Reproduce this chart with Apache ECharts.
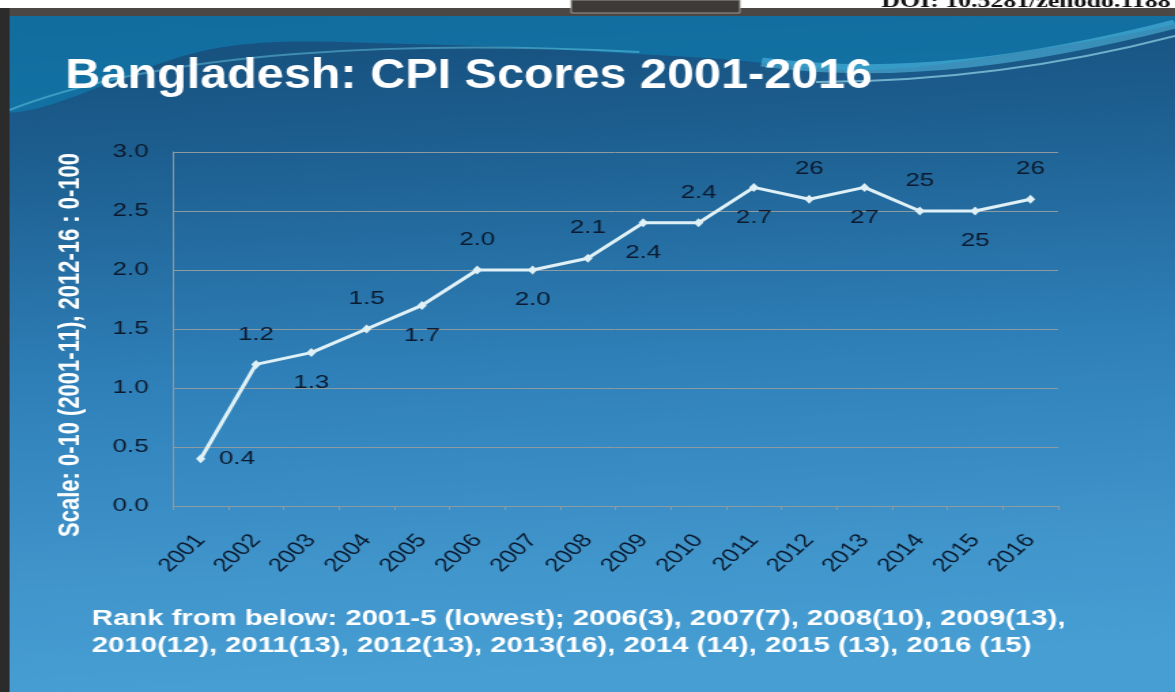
<!DOCTYPE html>
<html>
<head>
<meta charset="utf-8">
<script src="https://cdn.jsdelivr.net/npm/echarts@6/dist/echarts.min.js"></script>
<style>
html, body { margin: 0; padding: 0; background: #fff; overflow: hidden; }
/* the source slide is stretched sideways, so the chart is drawn narrower and widened */
#main { width: 864px; height: 692px; transform: scaleX(1.36); transform-origin: 0 0; }
</style>
</head>
<body>
<div id="main"></div>
<script>
// CPI scores (0-10 scale up to 2011, 0-100 divided by 10 from 2012)
const years = ['2001', '2002', '2003', '2004', '2005', '2006', '2007', '2008',
  '2009', '2010', '2011', '2012', '2013', '2014', '2015', '2016'];
const scores = [0.4, 1.2, 1.3, 1.5, 1.7, 2.0, 2.0, 2.1, 2.4, 2.4, 2.7, 2.6, 2.7, 2.5, 2.5, 2.6];
const scoreLabels = ['0.4', '1.2', '1.3', '1.5', '1.7', '2.0', '2.0', '2.1',
  '2.4', '2.4', '2.7', '26', '27', '25', '25', '26'];
const labelSide = ['right', 'top', 'bottom', 'top', 'bottom', 'top', 'bottom', 'top',
  'bottom', 'top', 'bottom', 'top', 'bottom', 'top', 'bottom', 'top'];
const yTicks = [0, 0.5, 1.0, 1.5, 2.0, 2.5, 3.0];

const titleText = 'Bangladesh: CPI Scores 2001-2016';
const yName = 'Scale: 0-10 (2001-11), 2012-16 : 0-100';
const noteLines = [
  'Rank from below: 2001-5 (lowest); 2006(3), 2007(7), 2008(10), 2009(13),',
  '2010(12), 2011(13), 2012(13), 2013(16), 2014 (14), 2015 (13), 2016 (15)'
];

const chart = echarts.init(document.getElementById('main'));

const points = scores.map((v, i) => ({
  value: v,
  label: {
    position: labelSide[i],
    distance: labelSide[i] === 'right' ? 10 : 16,
    formatter: scoreLabels[i]
  }
}));

const SANS = '"Liberation Sans", Arial, sans-serif';
const W = 864;

const option = {
  backgroundColor: '#ffffff',
  graphic: [
    // slide background
    {
      type: 'rect', z: -10, silent: true,
      shape: { x: 0, y: 16, width: W, height: 676 },
      style: {
        fill: new echarts.graphic.LinearGradient(0, 0, 0.05, 1, [
          { offset: 0, color: '#154d7a' },
          { offset: 0.22, color: '#1d5f90' },
          { offset: 0.55, color: '#2f80b9' },
          { offset: 0.85, color: '#4196cc' },
          { offset: 1, color: '#469ed3' }
        ])
      }
    },
    // swoosh at top
    {
      type: 'polygon', z: -8, silent: true,
      shape: {
        points: [[0, 16], [W, 16], [W, 24], [760, 50], [640, 70], [520, 58], [300, 44], [160, 48], [0, 112]],
        smooth: 0.35
      },
      style: { fill: 'rgba(16,126,176,0.65)' }
    },
    {
      type: 'bezierCurve', z: -7, silent: true,
      shape: { x1: 7, y1: 110, cpx1: 120, cpy1: 50, cpx2: 300, cpy2: 40, x2: 470, y2: 52 },
      style: { stroke: 'rgba(110,210,235,0.45)', lineWidth: 2, fill: null }
    },
    {
      type: 'bezierCurve', z: -7, silent: true,
      shape: { x1: 560, y1: 62, cpx1: 660, cpy1: 80, cpx2: 760, cpy2: 60, x2: W, y2: 24 },
      style: { stroke: 'rgba(90,200,235,0.5)', lineWidth: 9, fill: null }
    },
    {
      type: 'bezierCurve', z: -7, silent: true,
      shape: { x1: 600, y1: 82, cpx1: 700, cpy1: 82, cpx2: 790, cpy2: 62, x2: W, y2: 36 },
      style: { stroke: 'rgba(170,235,250,0.6)', lineWidth: 2, fill: null }
    },
    // window frame drawn over the swoosh
    {
      type: 'rect', z: -5, silent: true,
      shape: { x: 0, y: 0, width: W, height: 8 },
      style: { fill: '#ffffff' }
    },
    {
      type: 'rect', z: -5, silent: true,
      shape: { x: 0, y: 8, width: W, height: 8 },
      style: { fill: '#4a4744' }
    },
    {
      type: 'rect', z: -5, silent: true,
      shape: { x: 0, y: 8, width: 7, height: 684 },
      style: { fill: '#2b2b2b' }
    },
    {
      type: 'rect', z: -4, silent: true,
      shape: { x: 420, y: 0, width: 124, height: 13 },
      style: { fill: '#3d3a37', stroke: '#9a9a9a', lineWidth: 1 }
    },
    {
      type: 'text', silent: true,
      x: 648, y: -7,
      style: {
        text: 'DOI: 10.5281/zenodo.1188', fill: '#111',
        font: 'bold 19px "Liberation Serif", serif'
      }
    },
    // slide title
    {
      type: 'text', silent: true,
      x: 48, y: 55, scaleX: 0.85,
      style: {
        text: titleText,
        fill: '#ffffff',
        font: 'bold 42px ' + SANS,
        shadowColor: 'rgba(0,0,0,0.5)',
        shadowBlur: 3,
        shadowOffsetX: 2,
        shadowOffsetY: 2
      }
    },
    // y axis title
    {
      type: 'text', silent: true,
      x: 51.5, y: 345, rotation: Math.PI / 2,
      style: {
        text: yName,
        align: 'center', verticalAlign: 'middle',
        fill: '#ffffff',
        font: 'bold 22px "Liberation Sans Narrow", ' + SANS
      }
    },
    // note below chart
    {
      type: 'text', silent: true,
      x: 67.6, y: 606,
      style: {
        text: noteLines.join('\n'), lineHeight: 27,
        fill: '#ffffff', font: 'bold 21.5px ' + SANS
      }
    }
  ],
  grid: { left: 127.2, right: 86, top: 152, bottom: 186 },
  xAxis: {
    type: 'category',
    data: years,
    boundaryGap: true,
    axisLine: { lineStyle: { color: '#8d9aa0' } },
    axisTick: { show: true, length: 4, lineStyle: { color: '#8d9aa0' } },
    axisLabel: {
      rotate: 50,
      interval: 0,
      margin: 31,
      color: '#0b1a2e',
      fontSize: 19,
      fontFamily: SANS
    }
  },
  yAxis: {
    type: 'value',
    min: 0,
    max: 3,
    interval: 0.5,
    axisLine: { show: true, lineStyle: { color: '#8d9aa0' } },
    axisTick: { show: false },
    splitLine: { lineStyle: { color: '#8d9aa0', width: 1 } },
    axisLabel: {
      margin: 18,
      color: '#0b1a2e',
      fontSize: 19,
      fontFamily: SANS,
      formatter: v => yTicks.includes(v) ? v.toFixed(1) : ''
    }
  },
  series: [{
    type: 'line',
    data: points,
    symbol: 'diamond',
    symbolSize: [7, 9],
    lineStyle: { color: '#dff1f6', width: 3 },
    itemStyle: { color: '#dff1f6' },
    label: {
      show: true,
      color: '#0b1a2e',
      fontSize: 19,
      fontFamily: SANS
    }
  }],
  animation: false
};

chart.setOption(option);
</script>
</body>
</html>
